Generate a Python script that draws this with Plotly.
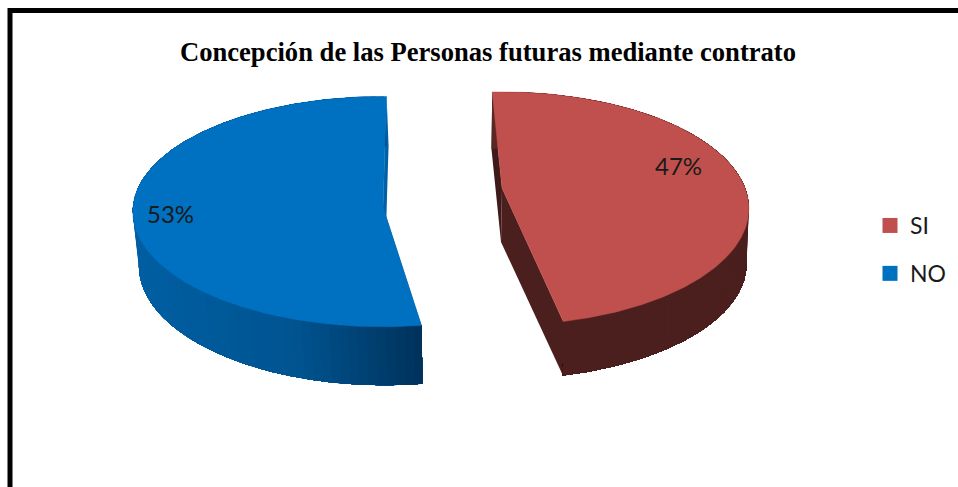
import numpy as np
import plotly.graph_objects as go

categories = ["SI", "NO"]
values = [47.4, 52.6]
title_text = "Concepción de las Personas futuras mediante contrato"
top_colors = ["#C0504D", "#0070C0"]

W, H = 958, 487
# per-slice projection: apex, semi axes, perspective
top_geo = [dict(cx=502, cy=188, a=243, b=113, k=0.176), dict(cx=383, cy=207, a=250, b=115, k=0.04)]
low_geo = [dict(cx=501, cy=242, a=241, b=111, k=0.191), dict(cx=385, cy=262, a=246, b=119.5, k=0.03)]
start_deg = [-2.7, 171.5]
label_r = [0.75, 0.85]
label_dy = [-12, -0.5]
wall_stops = [
    [(0.0, "#4B1F1E"), (0.72, "#4B1F1E"), (1.0, "#5A2725")],
    [(0.0, "#005FA3"), (0.55, "#005490"), (1.0, "#00315A")],
]
cut_colors = [("#3F1A19", "#4B1F1E"), ("#00315A", "#0060A6")]


def rim(g, t):
    d = 1 + g["k"] * np.cos(t)
    return g["cx"] + g["a"] * np.sin(t) / d, g["cy"] - g["b"] * np.cos(t) / d


def mix(stops, u):
    xs = [s[0] for s in stops]
    cs = np.array([[int(s[1][i:i + 2], 16) for i in (1, 3, 5)] for s in stops], float)
    rgb = [np.interp(u, xs, cs[:, j]) for j in range(3)]
    return "rgb(%d,%d,%d)" % tuple(rgb)


fig = go.Figure()
total = sum(values)
for i, (cat, val) in enumerate(zip(categories, values)):
    a0 = np.radians(start_deg[i])
    a1 = a0 + np.radians(360 * val / total)
    tg, lg = top_geo[i], low_geo[i]
    t = np.linspace(a0, a1, 361)
    tx, ty = rim(tg, t)
    lx, ly = rim(lg, t)
    # cut faces (both radial walls)
    for tt, col in zip((a0, a1), cut_colors[i]):
        px, py = rim(tg, np.array([tt]))
        qx, qy = rim(lg, np.array([tt]))
        fig.add_trace(go.Scatter(
            x=[tg["cx"], px[0], qx[0], lg["cx"], tg["cx"]],
            y=[tg["cy"], py[0], qy[0], lg["cy"], tg["cy"]],
            mode="lines", fill="toself", fillcolor=col,
            line=dict(width=0), hoverinfo="skip", showlegend=False))
    # outer rim: vertical shading drawn back to front so band seams do not show
    xmin, xmax = tx.min(), tx.max()
    order = range(0, len(t) - 1, 4)
    if i == 1:
        order = range(len(t) - 2, 0, -4)
    for j in order:
        s = np.arange(j, len(t)) if i == 0 else np.arange(0, j + 1)
        if len(s) < 2:
            continue
        f = (tx[j] - xmin) / (xmax - xmin)
        u = 1 - f if i == 0 else f
        col = mix(wall_stops[i], u)
        fig.add_trace(go.Scatter(
            x=np.r_[tx[s], lx[s][::-1], tx[s][0]], y=np.r_[ty[s], ly[s][::-1], ty[s][0]],
            mode="lines", fill="toself", fillcolor=col, line=dict(width=0),
            hoverinfo="skip", showlegend=False))
    # top face
    fig.add_trace(go.Scatter(
        x=np.r_[tg["cx"], tx, tg["cx"]], y=np.r_[tg["cy"], ty, tg["cy"]],
        mode="lines", fill="toself", fillcolor=top_colors[i],
        line=dict(color=top_colors[i], width=0.5), hoverinfo="skip", showlegend=False))
    # legend entry
    fig.add_trace(go.Scatter(
        x=[None], y=[None], mode="markers", name=cat, legendgroup=cat,
        marker=dict(symbol="square", size=15, color=top_colors[i])))

# percent labels placed relative to the slice mid-angle
for i, val in enumerate(values):
    mid = np.radians(start_deg[i] + 180 * val / total)
    g = top_geo[i]
    mx, my = rim(g, np.array([mid]))
    r = label_r[i]
    fig.add_annotation(x=g["cx"] + (mx[0] - g["cx"]) * r,
                       y=g["cy"] + (my[0] - g["cy"]) * r + label_dy[i],
                       text="%d%%" % round(val), showarrow=False,
                       font=dict(family="Lato", size=24, color="#1a1a1a"))

fig.update_layout(
    width=W, height=H, autosize=False,
    margin=dict(l=0, r=0, t=0, b=0),
    paper_bgcolor="white", plot_bgcolor="white",
    title=dict(text="<b>%s</b>" % title_text, x=488 / W, xanchor="center", y=1 - 52 / H, yanchor="middle",
               font=dict(family="Liberation Serif", size=26.6, color="#000000")),
    xaxis=dict(range=[0, W], visible=False),
    yaxis=dict(range=[H, 0], visible=False),
    legend=dict(x=870 / W, y=1 - 204 / H, xanchor="left", yanchor="top", tracegroupgap=15,
                font=dict(family="Lato", size=23, color="#1a1a1a"), bgcolor="rgba(0,0,0,0)"),
    shapes=[
        dict(type="line", xref="x", yref="y", x0=10, x1=W + 5, y0=10.5, y1=10.5, line=dict(color="black", width=5)),
        dict(type="line", xref="x", yref="y", x0=10, x1=10, y0=8, y1=H + 5, line=dict(color="black", width=5)),
    ],
)
fig.write_html("out.html", config={"displayModeBar": False},
               post_script="document.body.style.margin='0';document.body.style.overflow='hidden';")
